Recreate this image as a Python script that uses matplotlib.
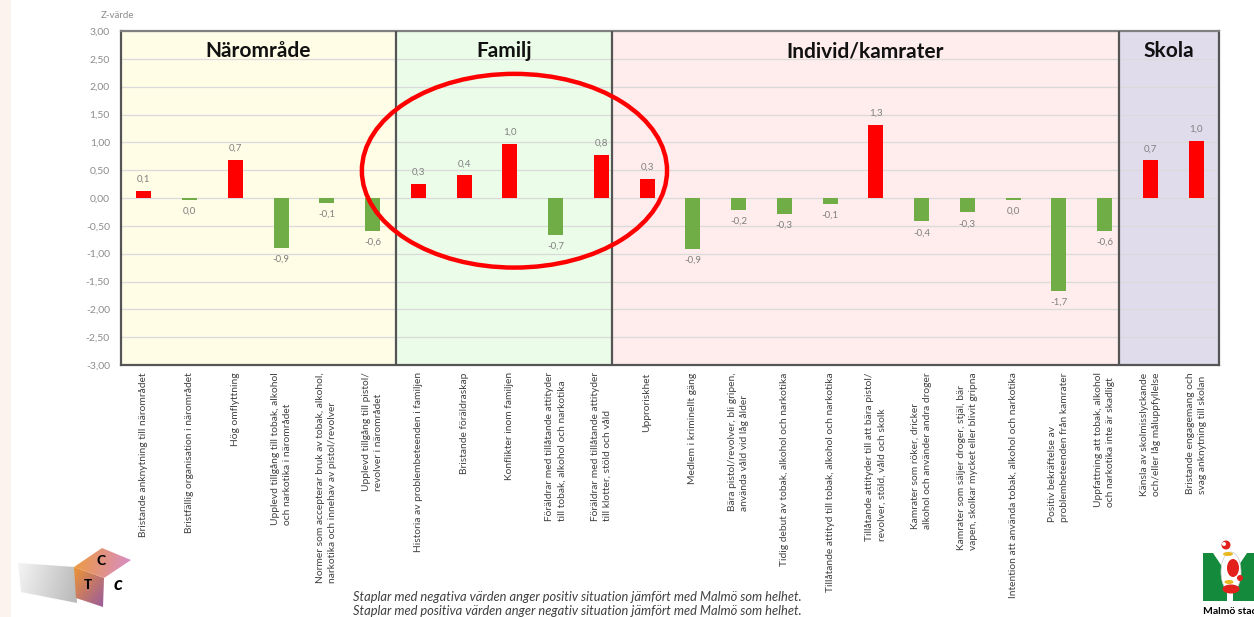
import numpy as np
import matplotlib.pyplot as plt
from matplotlib.patches import Ellipse, Polygon, Rectangle
from matplotlib.colors import to_rgb

plt.rcParams['font.family'] = ['Lato', 'DejaVu Sans']

# riskfaktorer per område (z-värden jämfört med Malmö)
naromrade = ["Bristande anknytning till närområdet",
             "Bristfällig organisation i närområdet",
             "Hög omflyttning",
             "Upplevd tillgång till tobak, alkohol\noch narkotika i närområdet",
             "Normer som accepterar bruk av tobak, alkohol,\nnarkotika och innehav av pistol/revolver",
             "Upplevd tillgång till pistol/\nrevolver i närområdet"]
naromrade_z = [0.13, -0.04, 0.69, -0.90, -0.09, -0.59]

familj = ["Historia av problembeteenden i familjen",
          "Bristande föräldraskap",
          "Konflikter inom familjen",
          "Föräldrar med tillåtande attityder\ntill tobak, alkohol och narkotika",
          "Föräldrar med tillåtande attityder\ntill klotter, stöld och våld"]
familj_z = [0.26, 0.41, 0.97, -0.66, 0.78]

individ = ["Upproriskhet",
           "Medlem i kriminellt gäng",
           "Bära pistol/revolver, bli gripen,\nanvända våld vid låg ålder",
           "Tidig debut av tobak, alkohol och narkotika",
           "Tillåtande attityd till tobak, alkohol och narkotika",
           "Tillåtande attityder till att bära pistol/\nrevolver, stöld, våld och skolk",
           "Kamrater som röker, dricker\nalkohol och använder andra droger",
           "Kamrater som säljer droger, stjäl, bär\nvapen, skolkar mycket eller blivit gripna",
           "Intention att använda tobak, alkohol och narkotika",
           "Positiv bekräftelse av\nproblembeteenden från kamrater",
           "Uppfattning att tobak, alkohol\noch narkotika inte är skadligt"]
individ_z = [0.34, -0.92, -0.21, -0.29, -0.11, 1.31, -0.42, -0.26, -0.03, -1.67, -0.59]

skola = ["Känsla av skolmisslyckande\noch/eller låg måluppfyllelse",
         "Bristande engagemang och\nsvag anknytning till skolan"]
skola_z = [0.68, 1.03]

omraden = ["Närområde", "Familj", "Individ/kamrater", "Skola"]
omrade_farg = ["#FFFDE6", "#EBFDE9", "#FFECEC", "#E0DCEC"]
# gränser mellan områdena på x-axeln
granser = [-0.5, 5.5, 10.23, 21.31, 23.5]

labels = naromrade + familj + individ + skola
z = np.array(naromrade_z + familj_z + individ_z + skola_z)
x = np.arange(len(z))

fig = plt.figure(figsize=(12.54, 6.17), dpi=100)
W, H = 1254, 617
ax = fig.add_axes([121 / W, 1 - 365 / H, (1219 - 121) / W, (365 - 31) / H])

for i in range(4):
    ax.axvspan(granser[i], granser[i + 1], color=omrade_farg[i], zorder=0, lw=0)
    ax.text((granser[i] + granser[i + 1]) / 2, 2.64, omraden[i], ha='center', va='center',
            fontsize=15, fontweight='bold', color='#111111', zorder=4)
for g in granser[1:-1]:
    ax.axvline(g, color='#555555', lw=1.6, zorder=3)

farger = np.where(z >= 0, '#FF0000', '#70AD47')
ax.bar(x, z, width=0.33, color=farger, zorder=2)

for xi, v in zip(x, z):
    txt = f"{round(v, 1) + 0.0:.1f}".replace('.', ',')
    if v >= 0:
        ax.annotate(txt, (xi, v), xytext=(0, 5), textcoords='offset points',
                    ha='center', va='bottom', fontsize=7, color='#808080')
    else:
        ax.annotate(txt, (xi, v), xytext=(0, -5), textcoords='offset points',
                    ha='center', va='top', fontsize=7, color='#808080')

ax.set_xlim(-0.5, 23.5)
ax.set_ylim(-3, 3)
yt = np.arange(-3, 3.01, 0.5)
ax.set_yticks(yt)
ax.set_yticklabels([f"{v:.2f}".replace('.', ',') for v in yt])
ax.tick_params(axis='y', length=0, pad=8, labelsize=7.5, labelcolor='#8C8C8C')
ax.set_xticks([])
ax.yaxis.grid(True, color='#DADADA', lw=0.9)
ax.set_axisbelow(True)
for s in ax.spines.values():
    s.set_color('#555555')
    s.set_linewidth(1.6)
ax.spines['top'].set_color('#808080')

# kategorinamn under diagrammet
for xi, lab in zip(x, labels):
    ax.text(xi, -0.022, lab, transform=ax.get_xaxis_transform(), rotation=90,
            ha='center', va='top', multialignment='left', linespacing=1.45,
            fontsize=7.4, color='#404040')

# markering runt familjefaktorerna
ax.add_patch(Ellipse((8.1, 0.49), 6.67, 3.48, fill=False, ec='#FF0000', lw=3.2,
                     clip_on=False, zorder=6))

fig.text(101 / W, 1 - 15 / H, "Z-värde", fontsize=7, color='#8C8C8C', ha='left', va='center')
fig.text(577 / W, 1 - 597 / H,
         "Staplar med negativa värden anger positiv situation jämfört med Malmö som helhet.",
         ha='center', va='center', style='italic', fontsize=9.3, color='#404040')
fig.text(577 / W, 1 - 611 / H,
         "Staplar med positiva värden anger negativ situation jämfört med Malmö som helhet.",
         ha='center', va='center', style='italic', fontsize=9.3, color='#404040')

# logotyper och kant, ritade i pixelkoordinater
lax = fig.add_axes([0, 0, 1, 1], zorder=-1)
lax.axis('off')
lax.add_patch(Rectangle((0, 0), 11, H, color='#FDF3EE', lw=0))


def gradient(c0, c1, ny, nx, horiz=0.5):
    gy, gx = np.mgrid[0:1:ny * 1j, 0:1:nx * 1j]
    t = np.clip(horiz * gx + (1 - horiz) * gy, 0, 1)[..., None]
    return (1 - t) * np.array(to_rgb(c0)) + t * np.array(to_rgb(c1))


skugga = Polygon([(18, 563), (75, 567), (77, 603), (21, 592)], closed=True, fc='none', ec='none')
lax.add_patch(skugga)
im = lax.imshow(gradient('#F4F4F4', '#B8B8B8', 20, 60, horiz=0.85), extent=(18, 77, 603, 563),
                aspect='auto')
im.set_clip_path(skugga)

vanster = Polygon([(74, 567), (104, 578), (103, 607), (76, 598)], closed=True, fc='none', ec='none')
lax.add_patch(vanster)
im = lax.imshow(gradient('#EC9436', '#9A5C9C', 40, 30, horiz=0.5), extent=(74, 104, 607, 567),
                aspect='auto')
im.set_clip_path(vanster)

topp = Polygon([(74, 567), (102, 548), (131, 560), (104, 578)], closed=True, fc='none', ec='none')
lax.add_patch(topp)
im = lax.imshow(gradient('#EE9A3A', '#D68CCB', 30, 60, horiz=0.9), extent=(74, 131, 578, 548),
                aspect='auto')
im.set_clip_path(topp)

lax.text(101, 561, "C", fontsize=10, fontweight='black', ha='center', va='center', color='black')
lax.text(88, 585, "T", fontsize=9.5, fontweight='black', ha='center', va='center', color='black')
lax.text(118, 584, "c", fontsize=14, fontweight='bold', style='italic', ha='center', va='center',
         color='black')

# Malmö stad
lax.add_patch(Polygon([(1203, 553), (1213, 553), (1227, 574), (1227, 601), (1203, 601)],
                      closed=True, fc='#138A3C', ec='none'))
lax.add_patch(Polygon([(1254, 553), (1247, 553), (1233, 574), (1233, 601), (1254, 601)],
                      closed=True, fc='#138A3C', ec='none'))
lax.add_patch(Ellipse((1231, 572), 20, 40, fc='white', ec='#C8C8C8', lw=0.5))
lax.add_patch(Ellipse((1233, 568), 12, 18, fc='#E3211C', ec='none'))
lax.add_patch(Ellipse((1231, 589), 17, 9, fc='#E3211C', ec='none'))
lax.add_patch(Ellipse((1226, 545), 9, 9, fc='#E3211C', ec='none'))
lax.add_patch(Ellipse((1224, 544), 4, 4, fc='white', ec='none'))
lax.add_patch(Ellipse((1240, 578), 6, 6, fc='#E3211C', ec='none'))
lax.add_patch(Ellipse((1228, 554), 10, 4, fc='#E8B820', ec='none'))
lax.add_patch(Ellipse((1229, 582), 9, 4, fc='#E8B820', ec='none'))
lax.text(1203, 611, "Malmö stad", fontsize=7.5, fontweight='bold', ha='left', va='center',
         color='black', clip_on=True)

lax.set_xlim(0, W)
lax.set_ylim(H, 0)

fig.savefig("out.png", dpi=100)
